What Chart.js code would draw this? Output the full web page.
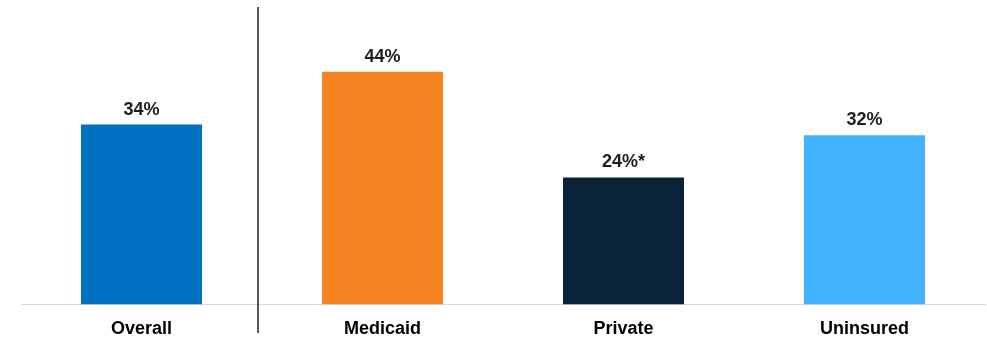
<!DOCTYPE html>
<html>
<head>
<meta charset="utf-8">
<script src="https://cdn.jsdelivr.net/npm/chart.js@4"></script>
<style>
html,body{margin:0;padding:0;background:#fff;}
#wrap{width:987px;height:339px;position:relative;}
</style>
</head>
<body>
<div id="wrap"><canvas id="c" width="987" height="339"></canvas></div>
<script>
const categories = ["Overall", "Medicaid", "Private", "Uninsured"];
const values = [34, 44, 24, 32];
const valueLabels = ["34%", "44%", "24%*", "32%"];
const barColors = ["#0070c0", "#f68423", "#0a2338", "#42b4ff"];

const labelPlugin = {
  id: 'valueLabels',
  afterDatasetsDraw(chart) {
    const ctx = chart.ctx;
    const meta = chart.getDatasetMeta(0);
    ctx.save();
    ctx.font = 'bold 18px "Liberation Sans", Arial, sans-serif';
    ctx.fillStyle = '#1e1e1e';
    ctx.textAlign = 'center';
    ctx.textBaseline = 'bottom';
    meta.data.forEach((bar, i) => {
      ctx.fillText(valueLabels[i], bar.x, bar.y - 6);
    });
    ctx.restore();
  }
};

const dividerPlugin = {
  id: 'divider',
  afterDraw(chart) {
    const xs = chart.scales.x;
    const x = (xs.getPixelForValue(0) + xs.getPixelForValue(1)) / 2 - 4;
    const ctx = chart.ctx;
    ctx.save();
    ctx.strokeStyle = '#222';
    ctx.lineWidth = 1.5;
    ctx.beginPath();
    ctx.moveTo(x, 7);
    ctx.lineTo(x, 333);
    ctx.stroke();
    ctx.restore();
  }
};

new Chart(document.getElementById('c'), {
  type: 'bar',
  data: {
    labels: categories,
    datasets: [{
      data: values,
      backgroundColor: barColors,
      borderWidth: 0,
      categoryPercentage: 1,
      barPercentage: 0.502
    }]
  },
  options: {
    responsive: false,
    animation: false,
    devicePixelRatio: 1,
    layout: { padding: { top: 40, left: 21, right: 2, bottom: -15 } },
    plugins: { legend: { display: false }, tooltip: { enabled: false } },
    scales: {
      y: { display: false, min: 0, max: 50 },
      x: {
        grid: { display: false, drawTicks: false },
        border: { display: true, color: '#d9d9d9', width: 1 },
        ticks: {
          color: '#000',
          font: { family: '"Liberation Sans", Arial, sans-serif', size: 18, weight: 'bold' },
          padding: 14
        }
      }
    }
  },
  plugins: [labelPlugin, dividerPlugin]
});
</script>
</body>
</html>
